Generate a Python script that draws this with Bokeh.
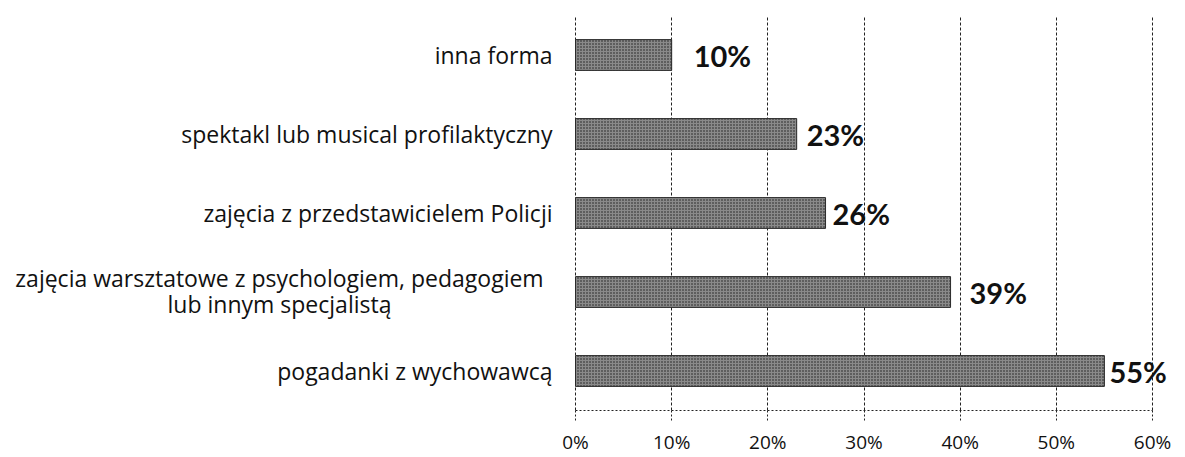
from bokeh.plotting import figure
from bokeh.models import FactorRange, Range1d, LabelSet, ColumnDataSource, PrintfTickFormatter, FixedTicker
from bokeh.core.properties import value
from bokeh.embed import file_html
from bokeh.resources import INLINE

categories = ["pogadanki z wychowawcą",
              "zajęcia warsztatowe z psychologiem, pedagogiem\nlub innym specjalistą",
              "zajęcia z przedstawicielem Policji",
              "spektakl lub musical profilaktyczny",
              "inna forma"]
values = [55, 39, 26, 23, 10]
value_labels = ["55%", "39%", "26%", "23%", "10%"]
x_ticks = [0, 10, 20, 30, 40, 50, 60]

FONT = "Open Sans"
VFONT = "Lato"

# layout: plot 0% at px 575, 60% at px 1152, page 1175 wide
W = 1175
X0_PX, X60_PX = 575, 1152
ppu = (X60_PX - X0_PX) / 60.0
x_start = -X0_PX / ppu
x_end = 60 + (W - X60_PX) / ppu

p = figure(width=W, height=457, output_backend="svg", toolbar_location=None,
           y_range=FactorRange(factors=categories, range_padding=0),
           x_range=Range1d(x_start, x_end),
           min_border_left=0, min_border_top=15, min_border_right=0, min_border_bottom=47)
p.outline_line_color = None
p.background_fill_color = "white"

label_dx = [5, 19, 7, 10, 22]
src = ColumnDataSource(dict(cat=categories, val=values, lab=value_labels, dx=label_dx))

p.hbar(y="cat", right="val", left=0, height=0.39, source=src,
       fill_color="#8a8a8a", line_color="#2a2a2a", line_width=1,
       hatch_pattern="dot", hatch_color="#1a1a1a", hatch_scale=3, hatch_weight=1.3)

# value labels
p.add_layout(LabelSet(x="val", y="cat", text="lab", x_offset="dx", source=src,
                      text_align="left", text_baseline="middle",
                      text_font=value(VFONT), text_font_style="bold", text_font_size="29px",
                      text_color="#111111"))

# category labels (multi-line ones split into centred lines)
single = [c for c in categories if "\n" not in c]
s1 = ColumnDataSource(dict(cat=single, zero=[0] * len(single)))
p.add_layout(LabelSet(x="zero", y="cat", text="cat", source=s1, x_offset=-23,
                      text_align="right", text_baseline="middle", text_font=value(FONT),
                      text_font_size="23px", text_color="#111111"))

m_cat, m_txt, m_dy = [], [], []
for c in categories:
    if "\n" in c:
        lines = c.split("\n")
        for i, ln in enumerate(lines):
            m_cat.append(c)
            m_txt.append(ln)
            m_dy.append(14 - 26 * i)
s2 = ColumnDataSource(dict(cat=m_cat, txt=m_txt, dy=m_dy, zero=[0] * len(m_cat)))
p.add_layout(LabelSet(x="zero", y="cat", text="txt", source=s2, x_offset=-296, y_offset="dy",
                      text_align="center", text_baseline="middle", text_font=value(FONT),
                      text_font_size="23px", text_color="#111111"))

# axes
p.yaxis.visible = False

p.xaxis.bounds = (0, 60)
p.xaxis.ticker = FixedTicker(ticks=x_ticks)
p.xaxis.formatter = PrintfTickFormatter(format="%d%%")
p.xaxis.major_label_text_font = FONT
p.xaxis.major_label_text_font_size = "19px"
p.xaxis.major_label_text_color = "#111111"
p.xaxis.major_label_standoff = 8
p.xaxis.major_tick_out = 10
p.xaxis.major_tick_in = 0
p.xaxis.major_tick_line_dash = "2 2"
p.xaxis.major_tick_line_color = "#222222"
p.xaxis.minor_tick_line_color = None
p.xaxis.axis_line_color = "#222222"
p.xaxis.axis_line_dash = "2 2"

p.ygrid.grid_line_color = None
p.xgrid.grid_line_color = "#222222"
p.xgrid.grid_line_dash = "3 2"
p.xgrid.grid_line_width = 1

open("out.html", "w").write(file_html(p, INLINE))
